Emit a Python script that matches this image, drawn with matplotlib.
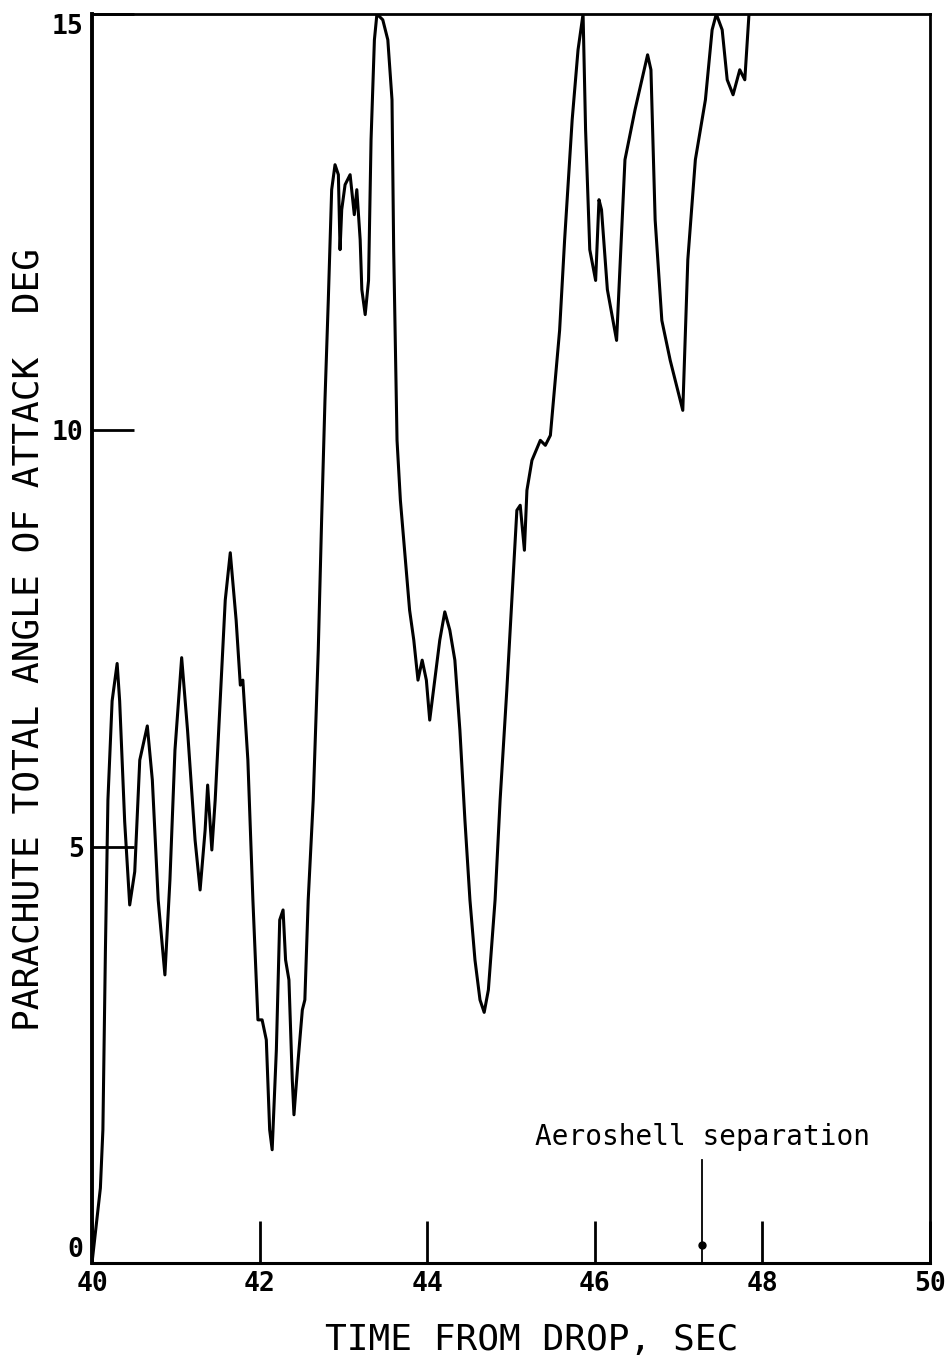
import matplotlib
matplotlib.use("Agg")
import matplotlib.pyplot as plt
from matplotlib import font_manager

# ---- data ----
time_s = [40.00, 40.05, 40.10, 40.13, 40.16, 40.19, 40.24, 40.30, 40.33, 40.39,
          40.45, 40.51, 40.57, 40.66, 40.72, 40.79, 40.87, 40.93, 40.99, 41.07,
          41.14, 41.23, 41.29, 41.35, 41.38, 41.43, 41.47, 41.53, 41.59, 41.65,
          41.72, 41.77, 41.80, 41.86, 41.92, 41.98, 42.03, 42.08, 42.12, 42.15,
          42.20, 42.24, 42.28, 42.31, 42.35, 42.39, 42.41, 42.46, 42.51, 42.54,
          42.58, 42.64, 42.70, 42.74, 42.78, 42.82, 42.86, 42.90, 42.94, 42.96,
          42.98, 43.02, 43.08, 43.13, 43.16, 43.20, 43.22, 43.26, 43.30, 43.33,
          43.37, 43.40, 43.47, 43.53, 43.58, 43.60, 43.64, 43.68, 43.74, 43.79,
          43.84, 43.89, 43.94, 43.99, 44.03, 44.09, 44.15, 44.21, 44.27, 44.33,
          44.39, 44.45, 44.51, 44.57, 44.63, 44.68, 44.73, 44.81, 44.87, 44.95,
          45.01, 45.07, 45.11, 45.16, 45.19, 45.25, 45.35, 45.41, 45.47, 45.58,
          45.64, 45.73, 45.80, 45.86, 45.89, 45.94, 46.01, 46.05, 46.08, 46.15,
          46.26, 46.31, 46.36, 46.48, 46.63, 46.67, 46.72, 46.80, 46.90, 47.05,
          47.11, 47.20, 47.32, 47.40, 47.45, 47.52, 47.58, 47.65, 47.73, 47.79,
          47.84]
angle_deg = [0.00, 0.45, 0.90, 1.60, 3.75, 5.56, 6.75, 7.20, 6.75, 5.30,
             4.30, 4.70, 6.04, 6.45, 5.80, 4.36, 3.46, 4.60, 6.16, 7.27,
             6.40, 5.08, 4.48, 5.20, 5.74, 4.96, 5.56, 6.76, 7.96, 8.53,
             7.72, 6.94, 7.00, 6.04, 4.36, 2.92, 2.92, 2.68, 1.60, 1.36,
             2.56, 4.12, 4.24, 3.64, 3.40, 2.20, 1.78, 2.44, 3.04, 3.16,
             4.36, 5.56, 7.36, 8.92, 10.36, 11.57, 12.89, 13.19, 13.07, 12.17,
             12.65, 12.95, 13.07, 12.59, 12.89, 12.29, 11.69, 11.39, 11.80, 13.49,
             14.69, 15.00, 14.93, 14.69, 13.97, 12.17, 9.88, 9.16, 8.44, 7.84,
             7.48, 7.00, 7.24, 7.00, 6.52, 7.00, 7.48, 7.82, 7.60, 7.24,
             6.40, 5.32, 4.36, 3.64, 3.16, 3.01, 3.28, 4.36, 5.56, 6.88,
             7.96, 9.04, 9.10, 8.56, 9.28, 9.64, 9.88, 9.82, 9.94, 11.20,
             12.29, 13.73, 14.57, 15.00, 13.61, 12.17, 11.80, 12.77, 12.65, 11.69,
             11.08, 12.17, 13.25, 13.85, 14.51, 14.33, 12.53, 11.32, 10.84, 10.24,
             12.05, 13.25, 13.97, 14.81, 15.00, 14.81, 14.21, 14.03, 14.33, 14.21,
             15.00]

x_ticks = [40, 42, 44, 46, 48, 50]
x_tick_labels = ["40", "42", "44", "46", "48", "50"]
y_ticks = [0, 5, 10, 15]
y_tick_labels = ["0", "5", "10", "15"]

event_time = 47.28
event_label = "Aeroshell separation"
event_marker_y = 0.22
event_line_top = 1.24
event_text_y = 1.51

x_label = "TIME FROM DROP, SEC"
y_label = "PARACHUTE TOTAL ANGLE OF ATTACK  DEG"

# ---- fonts ----
names = {f.name for f in font_manager.fontManager.ttflist}
if "Liberation Sans Narrow" in names:
    tick_font = dict(family="Liberation Sans Narrow", fontweight="bold", fontsize=23)
else:
    tick_font = dict(family="DejaVu Sans Mono", fontweight="bold", fontsize=19)
mono = "DejaVu Sans Mono"

fig = plt.figure(figsize=(9.48, 13.58), dpi=100)
ax = fig.add_axes([92/948, 1 - 1263/1358, (930-92)/948, (1263-14)/1358])

ax.plot(time_s, angle_deg, color="black", lw=2.2, solid_joinstyle="round")

ax.set_xlim(40, 50)
ax.set_ylim(0, 15)

ax.set_xticks(x_ticks)
ax.set_xticklabels(x_tick_labels, **tick_font)
ax.set_yticks(y_ticks)
ax.set_yticklabels(y_tick_labels, **tick_font)
ax.tick_params(axis="both", direction="in", length=30, width=2, color="black")
ax.tick_params(axis="x", pad=6)
ax.tick_params(axis="y", pad=6)

# end labels sit inside the axis range, as in the reference
ylabs = ax.get_yticklabels()
ylabs[0].set_verticalalignment("bottom")
ylabs[-1].set_verticalalignment("top")

for side, w in [("left", 2.8), ("bottom", 2.2), ("top", 2.0), ("right", 2.0)]:
    ax.spines[side].set_linewidth(w)

ax.set_xlabel(x_label, family=mono, fontsize=26)
ax.xaxis.set_label_coords(0.525, -0.048)
ax.set_ylabel(y_label, family=mono, fontsize=26)
ax.yaxis.set_label_coords(-0.056, 0.499)

# event annotation
ax.plot([event_time, event_time], [0, event_line_top], color="black", lw=1.3)
ax.plot([event_time], [event_marker_y], "o", color="black", ms=5)
ax.text(event_time, event_text_y, event_label, family=mono, fontsize=20,
        ha="center", va="center")

fig.savefig("out.png", dpi=100, facecolor="white")
